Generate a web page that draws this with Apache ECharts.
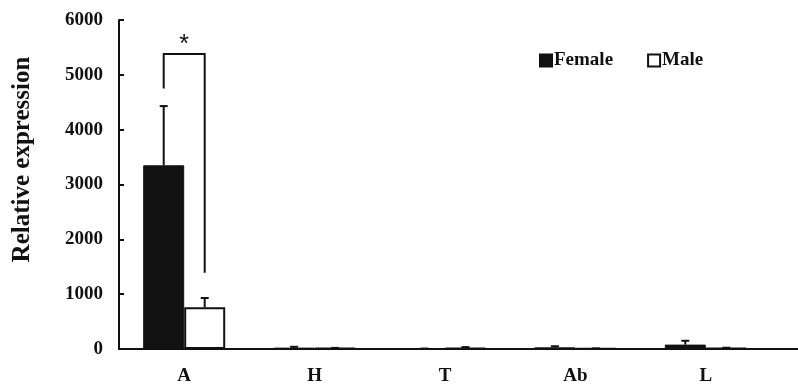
<!DOCTYPE html>
<html>
<head>
<meta charset="utf-8">
<script src="https://cdn.jsdelivr.net/npm/echarts@6/dist/echarts.min.js"></script>
<style>html,body{margin:0;padding:0;background:#fff}#c{width:798px;height:386px}</style>
</head>
<body>
<div id="c"></div>
<script>
var categories = ['A', 'H', 'T', 'Ab', 'L'];
var femaleValues = [3350, 25, 5, 30, 80];
var femaleErrors = [1080, 15, 3, 20, 70];
var maleValues = [760, 15, 20, 8, 18];
var maleErrors = [170, 5, 15, 3, 5];
var yTicks = [0, 1000, 2000, 3000, 4000, 5000, 6000];
// significance bracket for category A: [categoryIndex, femaleLegBottom, maleLegBottom, top]
var bracket = [[0, 4750, 1390, 5380]];

var FONT = '"Liberation Serif", "Times New Roman", serif';
var BAR_W = 41;

function errorRender(offsetSign) {
  return function (params, api) {
    var cat = api.value(0), v = api.value(1), e = api.value(2);
    var p0 = api.coord([cat, v]);
    var p1 = api.coord([cat, v + e]);
    var x = p0[0] + offsetSign * BAR_W / 2;
    return {
      type: 'group',
      children: [
        { type: 'line', shape: { x1: x, y1: p0[1], x2: x, y2: p1[1] }, style: { stroke: '#111', lineWidth: 2 } },
        { type: 'line', shape: { x1: x - 4, y1: p1[1], x2: x + 4, y2: p1[1] }, style: { stroke: '#111', lineWidth: 2 } }
      ]
    };
  };
}

var chart = echarts.init(document.getElementById('c'), null, { renderer: 'canvas' });
chart.setOption({
  animation: false,
  backgroundColor: '#fff',
  grid: { left: 119, width: 652, top: 20, bottom: 37 },
  legend: {
    left: 534, top: 46,
    itemWidth: 12, itemHeight: 12, itemGap: 34,
    textStyle: { fontFamily: FONT, fontWeight: 'bold', fontSize: 19, color: '#111', padding: [0, 0, 0, -3] },
    data: [
      { name: 'Female', icon: 'rect' },
      { name: 'Male', icon: 'rect', itemStyle: { color: '#fff', borderColor: '#111', borderWidth: 2 } }
    ]
  },
  xAxis: {
    type: 'category',
    data: categories,
    axisLine: { lineStyle: { color: '#111', width: 2 } },
    axisTick: { inside: true, length: 6, lineStyle: { color: '#111', width: 2 } },
    axisLabel: { fontFamily: FONT, fontWeight: 'bold', fontSize: 19, color: '#111', margin: 18 }
  },
  yAxis: {
    type: 'value',
    min: yTicks[0], max: yTicks[yTicks.length - 1], interval: 1000,
    splitLine: { show: false },
    axisLine: { show: true, lineStyle: { color: '#111', width: 2 } },
    axisTick: { show: true, inside: true, length: 5, lineStyle: { color: '#111', width: 2 } },
    axisLabel: { fontFamily: FONT, fontWeight: 'bold', fontSize: 19, color: '#111', margin: 16,
      formatter: function (v) { return String(v); } },
    name: 'Relative expression',
    nameLocation: 'middle',
    nameGap: 84,
    nameTextStyle: { fontFamily: FONT, fontWeight: 'bold', fontSize: 25, color: '#111', padding: [0, 0, 0, 50] }
  },
  series: [
    {
      name: 'Female', type: 'bar', data: femaleValues, barWidth: BAR_W, barGap: '0%',
      itemStyle: { color: '#111', borderColor: '#111', borderWidth: 1 }
    },
    {
      name: 'Male', type: 'bar', data: maleValues, barWidth: BAR_W, barGap: '0%',
      itemStyle: { color: '#fff', borderColor: '#111', borderWidth: 2 }
    },
    {
      name: 'femaleErr', type: 'custom', z: 5,
      data: femaleValues.map(function (v, i) { return [i, v, femaleErrors[i]]; }),
      renderItem: errorRender(-1)
    },
    {
      name: 'maleErr', type: 'custom', z: 5,
      data: maleValues.map(function (v, i) { return [i, v, maleErrors[i]]; }),
      renderItem: errorRender(1)
    },
    {
      name: 'sig', type: 'custom', z: 6,
      data: bracket,
      renderItem: function (params, api) {
        var cat = api.value(0);
        var pL = api.coord([cat, api.value(1)]);
        var pR = api.coord([cat, api.value(2)]);
        var pT = api.coord([cat, api.value(3)]);
        var xL = pL[0] - BAR_W / 2, xR = pL[0] + BAR_W / 2;
        return {
          type: 'group',
          children: [
            { type: 'polyline', shape: { points: [[xL, pL[1]], [xL, pT[1]], [xR, pT[1]], [xR, pR[1]]] },
              style: { stroke: '#111', lineWidth: 2, fill: null } },
            { type: 'text', style: { x: pL[0], y: pT[1] + 4, text: '*', fontSize: 25, fontFamily: '"Liberation Sans", Arial, sans-serif',
              fill: '#111', align: 'center', verticalAlign: 'bottom' } }
          ]
        };
      }
    }
  ],
  graphic: [
    { type: 'line', shape: { x1: 771, y1: 349, x2: 798, y2: 349 }, style: { stroke: '#111', lineWidth: 2 } }
  ]
});
</script>
</body>
</html>
